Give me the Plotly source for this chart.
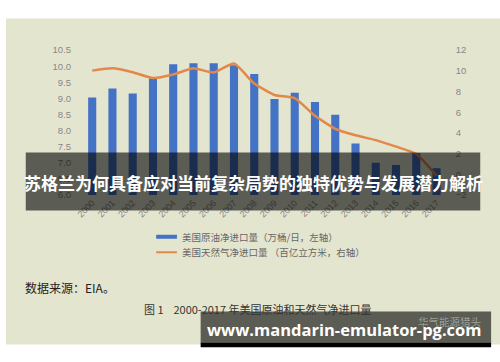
import plotly.graph_objects as go

years = list(range(2000, 2018))
oil_imports = [9.03, 9.31, 9.15, 9.63, 10.06, 10.09, 10.09, 10.03, 9.76, 8.98,
               9.18, 8.89, 8.49, 7.60, 7.00, 6.93, 7.30, 6.83]
gas_imports = [10.02, 10.24, 9.86, 9.30, 9.64, 10.24, 9.83, 10.70, 8.77, 7.67,
               7.36, 5.65, 4.40, 3.78, 3.31, 2.68, 1.96, -0.12]
tick_labels = [str(y) for y in years]

W, H = 500, 362
BG = "#e4e5cf"
BLUE = "#4472c4"
ORANGE = "#e2894a"


def py(px):
    return 1 - px / H


def px_(x):
    return x / W


fig = go.Figure()
fig.add_trace(go.Bar(x=years, y=oil_imports, marker_color=BLUE, marker_line_width=0,
                     yaxis="y", name="美国原油净进口量（万桶/日，左轴）"))
fig.add_trace(go.Scatter(x=years, y=gas_imports, mode="lines", yaxis="y2",
                         line=dict(color=ORANGE, width=2.5, shape="spline", smoothing=0.5),
                         name="美国天然气净进口量 （百亿立方米，右轴）"))

shapes = [
    dict(type="rect", xref="paper", yref="paper", x0=0, x1=1, y0=py(349), y1=py(13),
         fillcolor=BG, line_width=0, layer="below"),
    dict(type="line", xref="paper", yref="paper", x0=px_(152), x1=px_(173), y0=py(238), y1=py(238),
         line=dict(color=BLUE, width=4)),
    dict(type="line", xref="paper", yref="paper", x0=px_(152), x1=px_(173), y0=py(254), y1=py(254),
         line=dict(color=ORANGE, width=2)),
    dict(type="rect", xref="paper", yref="paper", x0=px_(20), x1=px_(480), y0=py(211), y1=py(151),
         fillcolor="rgba(0,0,0,0.6)", line_width=0, layer="above"),
    dict(type="rect", xref="paper", yref="paper", x0=px_(197), x1=px_(491), y0=py(347), y1=py(315),
         fillcolor="rgba(0,0,0,0.6)", line_width=0, layer="above"),
    dict(type="rect", xref="paper", yref="paper", x0=px_(197), x1=px_(491), y0=py(352), y1=py(347),
         fillcolor="#000000", line_width=0, layer="above"),
]

font_cjk = "Noto Sans CJK SC"


def ann(text, x, y, xanchor, size, color, family=font_cjk, weight="normal"):
    return dict(text=text, x=px_(x), y=py(y), xref="paper", yref="paper",
                xanchor=xanchor, yanchor="middle", showarrow=False,
                font=dict(size=size, color=color, family=family, weight=weight))


annotations = [
    ann("美国原油净进口量（万桶/日，左轴）", 176, 238, "left", 9.5, "#666666"),
    ann("美国天然气净进口量 （百亿立方米，右轴）", 176, 254, "left", 9.5, "#666666"),
    ann("数据来源：EIA。", 17, 290, "left", 12, "#222222"),
    ann("图 1    2000-2017 年美国原油和天然气净进口量", 138, 313, "left", 11, "#333333"),
    ann("苏格兰为何具备应对当前复杂局势的独特优势与发展潜力解析", 250, 182, "center", 17,
        "#ffffff", weight="bold"),
    ann("华气能源猎头", 483, 325, "right", 10.5, "rgba(190,190,180,0.7)"),
    ann("www.mandarin-emulator-pg.com", 343, 334, "center", 16.5, "#ffffff",
        family="Open Sans", weight="bold"),
]

fig.update_layout(
    width=W, height=H,
    margin=dict(l=0, r=0, t=0, b=0),
    paper_bgcolor="#ffffff", plot_bgcolor="rgba(0,0,0,0)",
    showlegend=False,
    bargap=0.6,
    xaxis=dict(domain=[px_(77), px_(446)], range=[1999.5, 2017.5], tickmode="array",
               tickvals=years, ticktext=tick_labels, tickangle=-45, showgrid=False,
               zeroline=False, showline=False, ticks="",
               tickfont=dict(size=9, color="#888888", family="Liberation Sans")),
    yaxis=dict(domain=[py(195), py(45.5)], range=[6, 10.5], dtick=0.5, tickformat=".1f",
               showgrid=False, zeroline=False, showline=False, ticks="", ticklabelstandoff=10,
               tickfont=dict(size=9.5, color="#888888", family="Liberation Sans")),
    yaxis2=dict(overlaying="y", side="right", range=[-2, 12], dtick=2,
                showgrid=False, zeroline=False, showline=False, ticks="", ticklabelstandoff=8,
                tickfont=dict(size=9.5, color="#888888", family="Liberation Sans")),
    shapes=shapes,
    annotations=annotations,
)

fig.write_html("out.html")
